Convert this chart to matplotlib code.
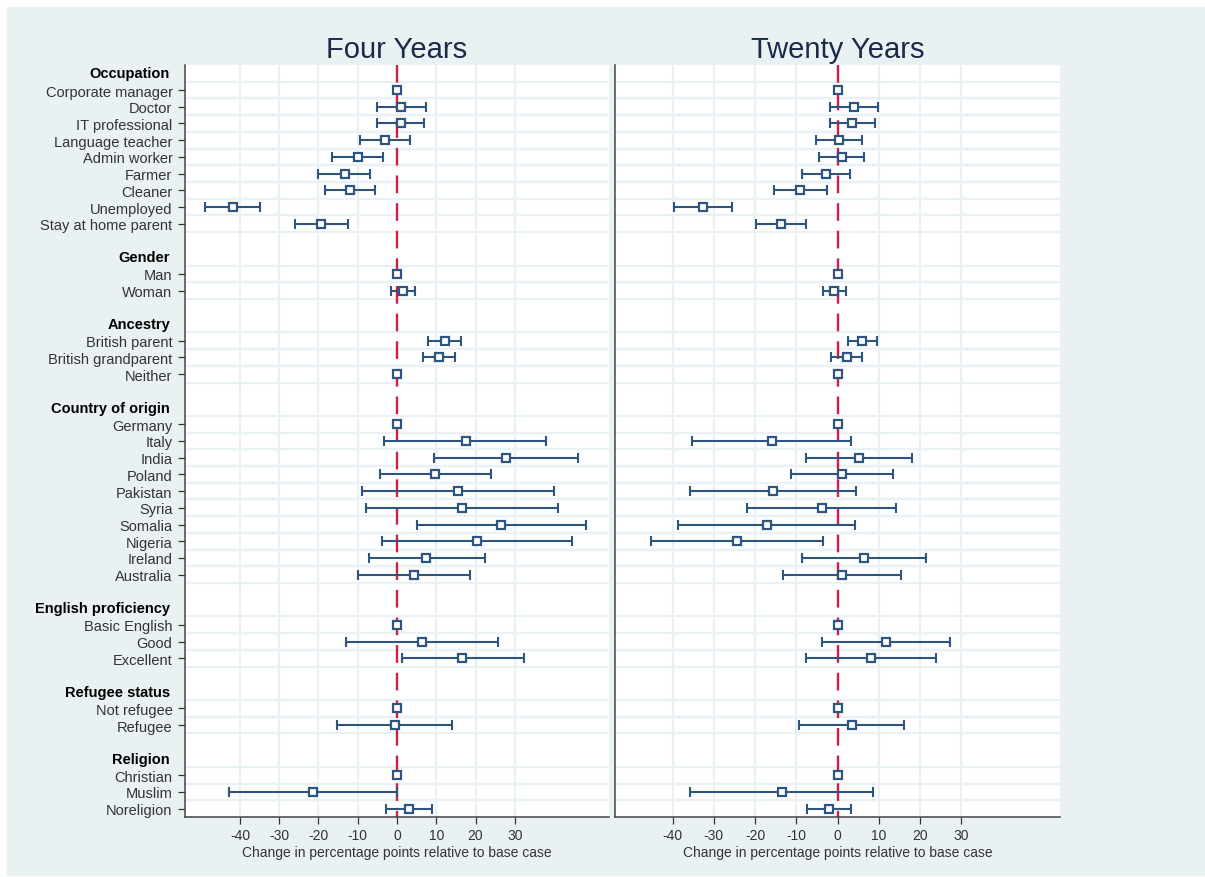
import numpy as np
import matplotlib
matplotlib.use("Agg")
import matplotlib.pyplot as plt
from matplotlib.patches import Rectangle

plt.rcParams['font.family'] = ['Liberation Sans', 'DejaVu Sans']

nan = np.nan

groups = ["Occupation", "Gender", "Ancestry", "Country of origin",
          "English proficiency", "Refugee status", "Religion"]
items = [
    ["Corporate manager", "Doctor", "IT professional", "Language teacher",
     "Admin worker", "Farmer", "Cleaner", "Unemployed", "Stay at home parent"],
    ["Man", "Woman"],
    ["British parent", "British grandparent", "Neither"],
    ["Germany", "Italy", "India", "Poland", "Pakistan", "Syria", "Somalia",
     "Nigeria", "Ireland", "Australia"],
    ["Basic English", "Good", "Excellent"],
    ["Not refugee", "Refugee"],
    ["Christian", "Muslim", "Noreligion"],
]

# four years: estimate, lower and upper bound
four_est = [0, 1.1, 1.0, -3.1, -10.0, -13.3, -11.9, -41.9, -19.3,
            0, 1.5,
            12.1, 10.7, 0,
            0, 17.5, 27.7, 9.7, 15.5, 16.5, 26.6, 20.5, 7.5, 4.3,
            0, 6.3, 16.6,
            0, -0.6,
            0, -21.4, 3.1]
four_lo = [nan, -5.0, -5.2, -9.5, -16.5, -20.1, -18.4, -49.0, -26.0,
           nan, -1.6,
           8.0, 6.5, nan,
           nan, -3.3, 9.5, -4.4, -9.0, -7.8, 5.1, -3.9, -7.2, -9.9,
           nan, -13.0, 1.2,
           nan, -15.3,
           nan, -42.7, -2.7]
four_hi = [nan, 7.3, 7.0, 3.2, -3.5, -6.8, -5.5, -34.8, -12.6,
           nan, 4.7,
           16.2, 14.8, nan,
           nan, 38.0, 46.0, 24.0, 40.1, 41.0, 48.2, 44.7, 22.5, 18.6,
           nan, 25.7, 32.3,
           nan, 14.1,
           nan, 0.0, 8.9]

# twenty years
twenty_est = [0, 4.1, 3.5, 0.4, 1.0, -2.7, -9.0, -32.7, -13.8,
              0, -0.8,
              6.0, 2.2, 0,
              0, -15.9, 5.2, 1.0, -15.6, -3.8, -17.2, -24.4, 6.4, 1.1,
              0, 11.7, 8.2,
              0, 3.4,
              0, -13.5, -2.0]
twenty_lo = [nan, -1.7, -1.9, -5.1, -4.5, -8.6, -15.5, -39.6, -19.7,
             nan, -3.4,
             2.5, -1.5, nan,
             nan, -35.2, -7.7, -11.3, -35.8, -21.9, -38.7, -45.2, -8.5, -13.3,
             nan, -3.8, -7.6,
             nan, -9.3,
             nan, -35.7, -7.4]
twenty_hi = [nan, 9.9, 9.0, 6.0, 6.5, 3.1, -2.5, -25.7, -7.7,
             nan, 2.0,
             9.6, 5.9, nan,
             nan, 3.2, 18.1, 13.4, 4.5, 14.2, 4.3, -3.6, 21.4, 15.5,
             nan, 27.3, 24.0,
             nan, 16.1,
             nan, 8.5, 3.3]

xticks = [-40, -30, -20, -10, 0, 10, 20, 30]

# row layout: header, items, blank line between groups
header_rows = []
item_rows = []
labels = []
r = 0
for g, its in zip(groups, items):
    header_rows.append(r)
    r += 1
    for it in its:
        item_rows.append(r)
        labels.append(it)
        r += 1
    r += 1
last = item_rows[-1]
item_rows = np.array(item_rows)

BG = "#e9f1f3"
GRID = "#eaf1f4"
NAVY = "#2d5580"
RED = "#d01f45"
TXT = "#333333"

W, H = 1205, 878
fig = plt.figure(figsize=(W / 100, H / 100), dpi=100)
fig.patches.append(Rectangle((7 / W, 2 / H), 1 - 7 / W, 868 / H,
                             transform=fig.transFigure, color=BG, zorder=-10))

ax1 = fig.add_axes([185 / W, 60 / H, 424 / W, 752 / H])
ax2 = fig.add_axes([615 / W, 60 / H, 445 / W, 752 / H])


def panel(ax, est, lo, hi, title):
    est = np.array(est, dtype=float)
    lo = np.array(lo, dtype=float)
    hi = np.array(hi, dtype=float)
    ax.set_facecolor("white")
    ax.set_xlim(-54, 54)
    ax.set_ylim(last + 0.5, -0.5)
    for x in xticks:
        if x != 0:
            ax.axvline(x, color=GRID, lw=1.6, zorder=0)
    for y in item_rows:
        ax.axhline(y - 0.5, color=GRID, lw=1.6, zorder=0)
        ax.axhline(y + 0.5, color=GRID, lw=1.6, zorder=0)
    ax.plot([0, 0], [-0.5, last + 0.5], color=RED, lw=1.7,
            linestyle=(0, (7.5, 4.2)), zorder=1)
    m = ~np.isnan(lo)
    ax.errorbar(est[m], item_rows[m], xerr=[est[m] - lo[m], hi[m] - est[m]],
                fmt="none", ecolor=NAVY, elinewidth=1.5, capsize=3.6,
                capthick=1.5, zorder=2)
    ax.plot(est, item_rows, "s", mfc="white", mec=NAVY, ms=6, mew=1.6,
            zorder=3)
    ax.set_xticks(xticks)
    ax.set_xticklabels([str(x) for x in xticks])
    ax.tick_params(axis="x", length=5, width=0.9, color="#333333",
                   labelsize=10, labelcolor=TXT, pad=3)
    ax.set_xlabel("Change in percentage points relative to base case",
                  fontsize=10, color=TXT, labelpad=2)
    ax.set_title(title, fontsize=21, color="#1c2a48", pad=6)
    for s in ["top", "right"]:
        ax.spines[s].set_visible(False)
    for s in ["left", "bottom"]:
        ax.spines[s].set_color("#444444")
        ax.spines[s].set_linewidth(1.1)


panel(ax1, four_est, four_lo, four_hi, "Four Years")
panel(ax2, twenty_est, twenty_lo, twenty_hi, "Twenty Years")

ax1.set_yticks(item_rows)
ax1.set_yticklabels(labels)
ax1.tick_params(axis="y", length=5, width=0.9, color="#333333",
                labelsize=10.5, labelcolor=TXT, pad=4)
for g, hr in zip(groups, header_rows):
    ax1.annotate(g, xy=(0, hr), xycoords=ax1.get_yaxis_transform(),
                 xytext=(-15, 0), textcoords="offset pixels",
                 ha="right", va="center", fontsize=10.5, weight="bold",
                 color="black")

ax2.set_yticks([])

fig.savefig("out.png", dpi=100)
